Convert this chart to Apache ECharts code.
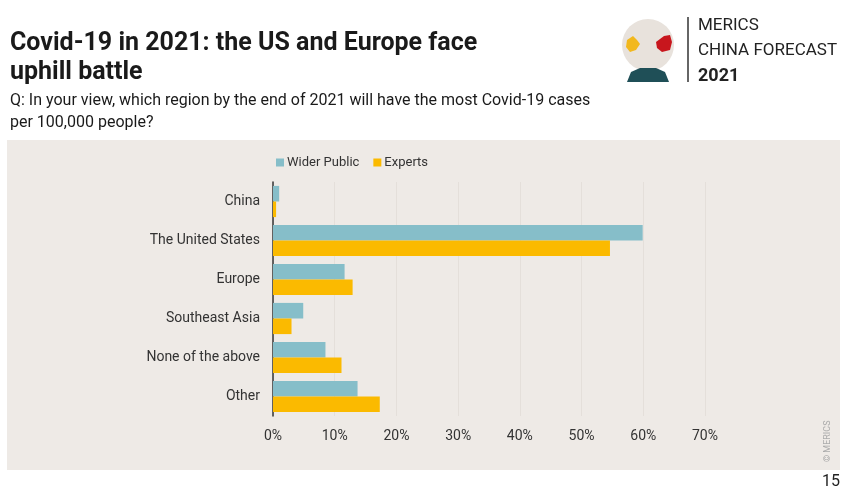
<!DOCTYPE html>
<html>
<head>
<meta charset="utf-8">
<script src="https://cdn.jsdelivr.net/npm/echarts@6/dist/echarts.min.js"></script>
<style>
html,body{margin:0;padding:0;background:#fff;}
#chart{width:850px;height:495px;}
</style>
</head>
<body>
<div id="chart"></div>
<script>
const categories = ["China", "The United States", "Europe", "Southeast Asia", "None of the above", "Other"];
const widerPublic = [1.0, 59.9, 11.6, 4.9, 8.5, 13.7];
const experts = [0.5, 54.6, 12.9, 3.0, 11.1, 17.3];
const seriesNames = ["Wider Public", "Experts"];
const xTicks = [0, 10, 20, 30, 40, 50, 60, 70];

const FONT = "Roboto, 'DejaVu Sans', sans-serif";
const chart = echarts.init(document.getElementById('chart'), null, {renderer: 'canvas'});

chart.setOption({
  backgroundColor: '#ffffff',
  animation: false,
  textStyle: {fontFamily: FONT},
  graphic: [
    {type: 'rect', z: -10, shape: {x: 7, y: 140, width: 833, height: 330}, style: {fill: '#eeeae6'}},
    {type: 'text', left: 10, top: 29, style: {text: 'Covid-19 in 2021: the US and Europe face\nuphill battle', font: 'bold 25px ' + FONT, fill: '#1a1a1a', lineHeight: 29}},
    {type: 'text', left: 10, top: 90, style: {text: 'Q: In your view, which region by the end of 2021 will have the most Covid-19 cases\nper 100,000 people?', font: '16px ' + FONT, fill: '#1a1a1a', lineHeight: 22}},
    // logo
    {type: 'circle', shape: {cx: 648, cy: 45, r: 26}, style: {fill: '#e8e2dc'}},
    {type: 'polygon', shape: {points: [[627,40],[633,36],[637,40],[640,44],[636,50],[630,52],[626,47]]}, style: {fill: '#f2b81d'}},
    {type: 'polygon', shape: {points: [[656,42],[664,36],[670,35],[672,42],[670,50],[662,52],[657,48]]}, style: {fill: '#c8161d'}},
    {type: 'polygon', shape: {points: [[627,82],[631,72],[640,68],[656,68],[665,72],[669,82]]}, style: {fill: '#1f4f57'}},
    {type: 'line', shape: {x1: 688, y1: 17, x2: 688, y2: 82}, style: {stroke: '#333', lineWidth: 1.5}},
    {type: 'text', left: 698, top: 17, style: {text: 'MERICS', font: '17px ' + FONT, fill: '#222'}},
    {type: 'text', left: 698, top: 42, style: {text: 'CHINA FORECAST', font: '17px ' + FONT, fill: '#222'}},
    {type: 'text', left: 698, top: 67, style: {text: '2021', font: 'bold 18px ' + FONT, fill: '#222'}},
    {type: 'text', x: 823, y: 462, rotation: Math.PI / 2, style: {text: '© MERICS', font: '9px ' + FONT, fill: '#aaa'}},
    {type: 'text', left: 822, top: 474, style: {text: '15', font: '16px ' + FONT, fill: '#222'}}
  ],
  legend: {
    data: seriesNames,
    left: 271, top: 151,
    itemWidth: 8, itemHeight: 8, itemGap: 14,
    icon: 'rect',
    textStyle: {fontFamily: FONT, fontSize: 13, color: '#333', padding: [0,0,0,-2]}
  },
  grid: {left: 273, right: 145, top: 182, bottom: 79, containLabel: false},
  xAxis: {
    type: 'value', min: 0, max: 70, interval: 10,
    axisLine: {show: false}, axisTick: {show: false},
    splitLine: {show: true, lineStyle: {color: '#e4dfda', width: 1}},
    axisLabel: {formatter: v => xTicks.includes(v) ? v + '%' : '', fontSize: 14, color: '#333', margin: 13, fontFamily: FONT}
  },
  yAxis: {
    type: 'category', data: categories, inverse: true,
    axisLine: {show: true, lineStyle: {color: '#333', width: 1.5}},
    axisTick: {show: false},
    axisLabel: {fontSize: 14, color: '#333', margin: 13, fontFamily: FONT, padding: [3,0,0,0]}
  },
  series: [
    {name: seriesNames[0], type: 'bar', data: widerPublic, itemStyle: {color: '#86bec9'}, barGap: '0%', barCategoryGap: '20%'},
    {name: seriesNames[1], type: 'bar', data: experts, itemStyle: {color: '#fbba00'}, barGap: '0%', barCategoryGap: '20%'}
  ]
});
</script>
</body>
</html>
